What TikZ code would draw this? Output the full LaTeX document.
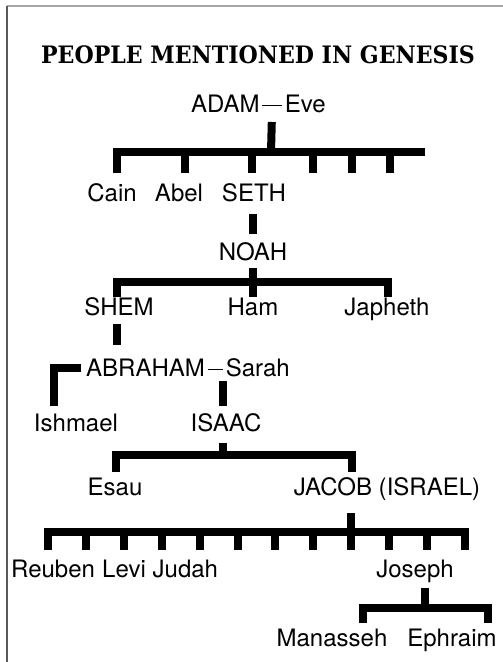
\documentclass[tikz,border=0pt]{standalone}
\usepackage{fontspec}
\setmainfont{TeX Gyre Heros}
\newfontfamily\titlefont{DejaVu Serif}
\usetikzlibrary{calc}

\tikzset{
  person/.style={font=\fontsize{24}{28}\selectfont, inner sep=0pt, text height=17.2pt, text depth=0pt},
  headline/.style={font=\titlefont\bfseries\fontsize{24}{28}\selectfont, inner sep=0pt, text height=17.5pt, text depth=0pt},
  bar/.style={line width=8pt, line cap=butt, line join=miter},
  wed/.style={line width=1.6pt, shorten <=2.5pt, shorten >=2.5pt},
}

\begin{document}
\begin{tikzpicture}[x=1pt, y=-1pt]
\useasboundingbox (0,0) rectangle (503,662);
\draw[black!35, line width=1.2pt] (7,6) -- (503,6);
\draw[black!65, line width=1.2pt] (7,6) -- (7,662);

\node at (258,55) [headline] (title) {\scalebox{0.92}[1]{PEOPLE MENTIONED IN GENESIS}};

\node at (191,104) [person, anchor=west] (adam) {ADAM};
\node at (326,104) [person, anchor=east] (eve) {Eve};
\node at (112,193) [person] (cain) {Cain};
\node at (179,193) [person] (abel) {Abel};
\node at (254,193) [person] (seth) {SETH};
\node at (253,252) [person] (noah) {NOAH};
\node at (119,307) [person] (shem) {SHEM};
\node at (253,307) [person] (ham) {Ham};
\node at (387,307) [person] (japheth) {Japheth};
\node at (86,368) [person, anchor=west] (abraham) {ABRAHAM};
\node at (290,368) [person, anchor=east] (sarah) {Sarah};
\node at (76,423) [person] (ishmael) {Ishmael};
\node at (226,423) [person] (isaac) {ISAAC};
\node at (115,487) [person] (esau) {Esau};
\node at (387,487) [person] (jacob) {JACOB (ISRAEL)};
\node at (11,569) [person, anchor=west] (reuben) {Reuben};
\node at (102,569) [person, anchor=west] (levi) {Levi};
\node at (152.5,569) [person, anchor=west] (judah) {Judah};
\node at (415,569) [person] (joseph) {Joseph};
\node at (332,638) [person] (manasseh) {Manasseh};
\node at (452,638) [person] (ephraim) {Ephraim};

\coordinate (b1) at (271,152);
\coordinate (b3) at (223,455);
\coordinate (b4) at (351,532);
\coordinate (b5) at (425,608);

\draw[wed] ([yshift=-1.5pt]adam.east) -- ([yshift=-1.5pt]eve.west);
\draw[bar, shorten <=18pt] ($(adam.east)!.5!(eve.west)$) -- (b1);
\draw[bar] (117,173) |- (425,152);
\foreach \x in {185,252,313,352,390}
  \draw[bar] (\x,152) -- (\x,173);

\draw[bar, shorten <=12pt, shorten >=9pt] ([xshift=-1pt]seth.south) -- (noah.north);
\draw[bar, shorten <=7pt] (noah.south) -- (253,297);
\draw[bar] (117,297) |- (388,282) -- (388,297);

\draw[bar, shorten <=8pt, shorten >=14pt] ([xshift=-2pt]shem.south) -- ([xshift=-2pt]shem.south |- abraham.north);
\draw[wed] ([yshift=-1.5pt]abraham.east) -- ([yshift=-1.5pt]sarah.west);
\draw[bar] ([xshift=-22pt, yshift=8pt]ishmael.north) |- ([xshift=-5pt]abraham.west);
\draw[bar, shorten <=8pt, shorten >=4pt] ([xshift=-3pt]isaac.north) -- ([xshift=-3pt]isaac.north |- sarah.south);

\draw[bar, shorten <=11pt] (b3 |- isaac.south) -- (b3);
\draw[bar] (116,472) |- (352,455) -- (352,472);

\draw[bar, shorten <=17pt] (b4 |- jacob.south) -- (b4);
\draw[bar] (48,550) |- (465,532) -- (465,550);
\foreach \i in {1,...,10}
  \draw[bar] ({48+37.9*\i},532) -- ({48+37.9*\i},550);

\draw[bar, shorten <=10pt] (b5 |- joseph.south) -- (b5);
\draw[bar] (363,623) |- (488,608) -- (488,623);
\end{tikzpicture}
\end{document}
